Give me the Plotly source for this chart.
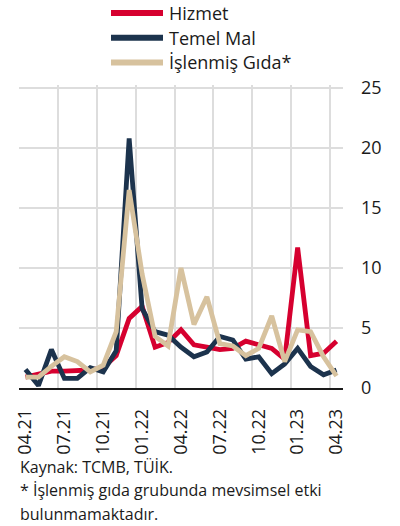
import plotly.graph_objects as go

# Monthly series, 04.21 - 04.23
months = ["04.21", "05.21", "06.21", "07.21", "08.21", "09.21", "10.21", "11.21", "12.21",
          "01.22", "02.22", "03.22", "04.22", "05.22", "06.22", "07.22", "08.22", "09.22",
          "10.22", "11.22", "12.22", "01.23", "02.23", "03.23", "04.23"]
hizmet = [0.9, 1.1, 1.4, 1.4, 1.45, 1.5, 1.7, 2.7, 5.8, 6.8, 3.4, 3.8, 4.85,
          3.6, 3.4, 3.2, 3.3, 3.9, 3.6, 3.3, 2.4, 11.7, 2.7, 2.9, 3.9]
temel_mal = [1.55, 0.2, 3.2, 0.8, 0.8, 1.7, 1.35, 3.1, 20.8, 6.6, 4.7, 4.4, 3.4,
             2.6, 3.0, 4.3, 4.0, 2.4, 2.6, 1.2, 2.0, 3.3, 1.8, 1.1, 1.5]
islenmis_gida = [0.9, 0.9, 1.8, 2.6, 2.2, 1.35, 1.9, 4.7, 16.5, 9.5, 4.3, 3.5, 10.0,
                 5.3, 7.6, 3.7, 3.5, 2.7, 3.3, 6.0, 2.2, 4.85, 4.7, 2.6, 1.0]
tick_labels = ["04.21", "07.21", "10.21", "01.22", "04.22", "07.22", "10.22", "01.23", "04.23"]
y_ticks = [0, 5, 10, 15, 20, 25]

series = [
    ("Hizmet", hizmet, "#D6002F"),
    ("Temel Mal", temel_mal, "#1C334D"),
    ("İşlenmiş Gıda*", islenmis_gida, "#D7C29E"),
]

FONT = "Open Sans"
W, H = 400, 526
ML, MR, MT, MB = 19, 57, 85, 138
PW, PH = W - ML - MR, H - MT - MB

x = list(range(len(months)))
tick_pos = [months.index(m) for m in tick_labels]
grid_pos = [p - 0.5 for p in tick_pos]

fig = go.Figure()
for name, vals, color in series:
    fig.add_trace(go.Scatter(x=x, y=vals, mode="lines", name=name,
                             line=dict(color=color, width=4.8),
                             showlegend=False))

def px_x(px):
    return (px - ML) / PW

def px_y(py):
    return (H - MB - py) / PH

# Legend drawn as line samples with labels above the plot
shapes = []
annotations = []
for k, (name, vals, color) in enumerate(series):
    py = 13 + k * 24.7
    shapes.append(dict(type="line", xref="paper", yref="paper",
                       x0=px_x(111), x1=px_x(163), y0=px_y(py), y1=px_y(py),
                       line=dict(color=color, width=6)))
    annotations.append(dict(text=name, xref="paper", yref="paper",
                            x=px_x(167), y=px_y(py), xanchor="left", yanchor="middle",
                            showarrow=False, font=dict(family=FONT, size=18, color="#1a1a1a")))

notes = ["Kaynak: TCMB, TÜİK.",
         "* İşlenmiş gıda grubunda mevsimsel etki",
         "bulunmamaktadır."]
for k, t in enumerate(notes):
    annotations.append(dict(text=t, xref="paper", yref="paper",
                            x=px_x(18), y=px_y(466.5 + k * 23.5), xanchor="left", yanchor="middle",
                            showarrow=False, font=dict(family=FONT, size=16, color="#1a1a1a")))

fig.update_layout(
    width=W, height=H,
    margin=dict(l=ML, r=MR, t=MT, b=MB, pad=0),
    paper_bgcolor="white", plot_bgcolor="white",
    font=dict(family=FONT, size=18, color="#1a1a1a"),
    shapes=shapes, annotations=annotations,
    xaxis=dict(range=[-0.5, len(months) - 0.5], tickmode="array",
               tickvals=tick_pos, ticktext=tick_labels, tickangle=-90,
               showgrid=False, zeroline=False,
               showline=True, linecolor="#1a1a1a", linewidth=1.5,
               ticks="", ticklabelstandoff=12,
               minor=dict(tickmode="array", tickvals=grid_pos, showgrid=True,
                          gridcolor="#dddddd", gridwidth=1.5, ticks=""),
               tickfont=dict(family=FONT, size=18, color="#1a1a1a")),
    yaxis=dict(range=[0, 25.25], side="right", tickmode="array", tickvals=y_ticks,
               showgrid=True, gridcolor="#dddddd", gridwidth=1.5,
               zeroline=False, showline=False, ticks="", ticklabelstandoff=17,
               tickfont=dict(family=FONT, size=18, color="#1a1a1a")),
)

fig.write_html("out.html")
